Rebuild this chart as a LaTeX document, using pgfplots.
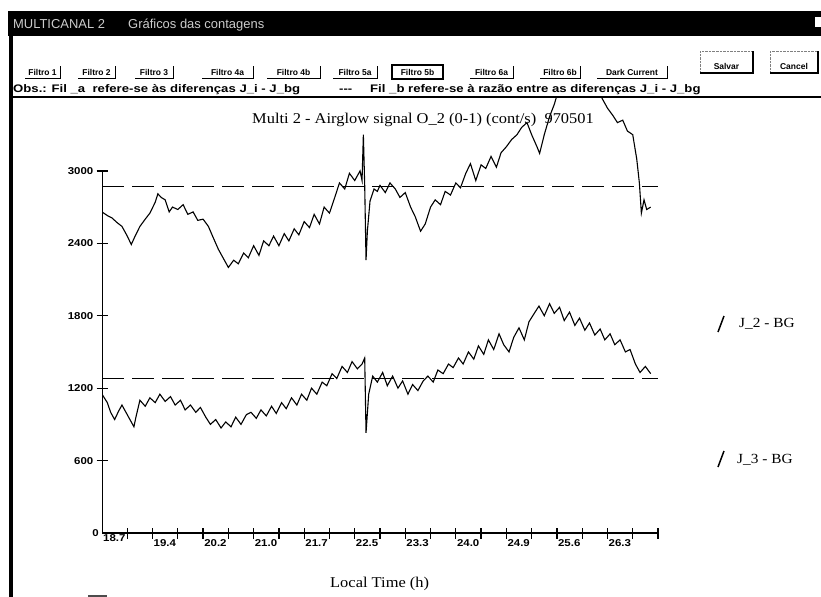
\documentclass[border=0pt]{standalone}
\usepackage{fontspec}
\setmainfont{Liberation Serif}
\newfontfamily\sansf{Liberation Sans}
\newfontfamily\sansw[FakeStretch=1.2]{Liberation Sans}
\newfontfamily\sanst[FakeStretch=1.15]{Liberation Sans}
\newfontfamily\serifw[FakeStretch=1.1]{Liberation Serif}
\usepackage{pgfplots}
\usepackage{pgfplotstable}
\pgfplotsset{compat=1.18}

\pgfplotstableread{
h v
18.70 2660
18.78 2630
18.85 2610
18.93 2570
19.00 2540
19.08 2460
19.14 2390
19.19 2450
19.27 2540
19.35 2600
19.42 2650
19.50 2740
19.54 2810
19.59 2780
19.65 2760
19.71 2660
19.76 2700
19.84 2680
19.92 2720
19.99 2640
20.07 2660
20.14 2590
20.22 2600
20.30 2540
20.37 2450
20.45 2350
20.52 2280
20.60 2200
20.68 2260
20.75 2230
20.83 2320
20.90 2280
20.98 2380
21.06 2300
21.13 2420
21.21 2380
21.28 2460
21.36 2380
21.44 2480
21.51 2420
21.59 2520
21.66 2470
21.74 2580
21.82 2530
21.89 2640
21.97 2560
22.04 2700
22.12 2650
22.20 2780
22.27 2900
22.35 2850
22.42 2980
22.50 2920
22.58 3000
22.61 2920
22.63 3300
22.65 2880
22.67 2260
22.69 2500
22.73 2750
22.79 2850
22.84 2830
22.88 2880
22.96 2820
23.03 2900
23.11 2850
23.18 2780
23.26 2820
23.34 2700
23.41 2620
23.49 2500
23.56 2560
23.64 2700
23.71 2760
23.79 2720
23.86 2830
23.94 2800
24.02 2900
24.09 2860
24.17 2980
24.24 3060
24.32 2920
24.40 3050
24.47 3020
24.55 3120
24.63 3030
24.70 3150
24.78 3200
24.86 3260
24.94 3300
25.01 3360
25.09 3400
25.16 3300
25.24 3200
25.28 3145
25.35 3300
25.43 3450
25.50 3550
25.58 3700
25.73 3800
25.92 3900
26.11 3800
26.22 3600
26.30 3520
26.38 3460
26.45 3400
26.53 3420
26.60 3330
26.68 3300
26.74 3100
26.78 2900
26.81 2650
26.85 2760
26.89 2680
26.95 2700
}\upperdata

\pgfplotstableread{
h v
18.70 1150
18.78 1080
18.83 1000
18.89 940
18.95 1010
19.00 1060
19.08 980
19.14 920
19.18 880
19.21 960
19.27 1100
19.35 1050
19.42 1120
19.50 1080
19.57 1150
19.65 1090
19.73 1130
19.80 1060
19.88 1100
19.95 1020
20.03 1060
20.11 1000
20.18 1040
20.26 960
20.33 900
20.41 940
20.49 870
20.56 920
20.64 880
20.71 960
20.79 900
20.87 980
20.94 1000
21.02 950
21.09 1020
21.17 970
21.25 1050
21.32 990
21.40 1080
21.47 1030
21.55 1120
21.63 1060
21.70 1150
21.78 1100
21.85 1200
21.93 1150
22.01 1250
22.08 1220
22.16 1320
22.23 1280
22.31 1380
22.39 1330
22.46 1420
22.54 1360
22.61 1400
22.65 1450
22.67 830
22.71 1150
22.77 1300
22.84 1250
22.92 1330
22.99 1220
23.07 1300
23.15 1200
23.22 1260
23.30 1150
23.37 1230
23.45 1180
23.53 1260
23.60 1300
23.68 1250
23.75 1350
23.83 1320
23.91 1400
23.98 1370
24.06 1450
24.13 1400
24.21 1500
24.29 1440
24.36 1550
24.44 1480
24.51 1600
24.59 1520
24.67 1650
24.74 1560
24.82 1500
24.89 1620
24.97 1700
25.05 1600
25.12 1750
25.20 1820
25.27 1880
25.35 1800
25.43 1900
25.50 1820
25.58 1870
25.65 1760
25.73 1830
25.81 1720
25.88 1780
25.96 1680
26.03 1740
26.11 1640
26.19 1690
26.26 1600
26.34 1650
26.41 1560
26.49 1600
26.57 1500
26.64 1520
26.72 1400
26.79 1330
26.87 1380
26.95 1320
}\lowerdata

\newcommand\btnfont{\sansf\bfseries\fontsize{8.5}{10}\selectfont}
\newcommand\btn[3]{%
  \draw[line width=1bp] (#1,78) -- (#2,78) -- (#2,66);
  \node[font=\btnfont, inner sep=0pt] at ({(#1+#2)/2},72.5) {#3};}

\begin{document}
\begin{tikzpicture}
\useasboundingbox (0,0) rectangle (821bp,-597bp);
\begin{scope}[x=1bp,y=-1bp]
  % window title bar
  \fill[black] (8,11) rectangle (821,36);
  \node[anchor=base west, text=black!20, font=\sansf\fontsize{13}{15}\selectfont, inner sep=0pt] at (13,28) {MULTICANAL 2};
  \node[anchor=base west, text=black!20, font=\sansf\fontsize{13}{15}\selectfont, inner sep=0pt] at (128,28) {Gráficos das contagens};
  \fill[white] (815,17) rectangle (821,27);
  % left window border
  \draw[line width=3bp] (11,11) -- (11,597);
  % buttons
  \btn{25}{60}{Filtro 1}
  \btn{78}{115}{Filtro 2}
  \btn{135}{173}{Filtro 3}
  \btn{202}{253}{Filtro 4a}
  \btn{267}{320}{Filtro 4b}
  \btn{333}{377}{Filtro 5a}
  \draw[line width=1.6bp] (392,65) rectangle (443,79);
  \node[font=\btnfont, inner sep=0pt] at (417.5,72.5) {Filtro 5b};
  \btn{470}{513}{Filtro 6a}
  \btn{540}{580}{Filtro 6b}
  \btn{597}{667}{Dark Current}
  \draw[black!50, densely dotted] (700,51) rectangle (753,73);
  \draw[line width=1.2bp] (700,73) -- (753,73) -- (753,51);
  \node[font=\btnfont, inner sep=0pt] at (726.5,66) {Salvar};
  \draw[black!50, densely dotted] (770,51) rectangle (818,73);
  \draw[line width=1.2bp] (770,73) -- (818,73) -- (818,51);
  \node[font=\btnfont, inner sep=0pt] at (794,66) {Cancel};
  % observation line
  \node[anchor=base west, font=\sansw\bfseries\fontsize{11}{13}\selectfont, inner sep=0pt] at (13,92) {Obs.: Fil \_a\ \ refere-se às diferenças J\_i - J\_bg};
  \node[anchor=base west, font=\sansw\bfseries\fontsize{11}{13}\selectfont, inner sep=0pt] at (339,92) {---};
  \node[anchor=base west, font=\sansw\bfseries\fontsize{11}{13}\selectfont, inner sep=0pt] at (370,92) {Fil \_b refere-se à razão entre as diferenças J\_i - J\_bg};
  \draw[line width=1.2bp] (12,97) -- (821,97);
\end{scope}

\begin{axis}[
  at={(102bp,-533bp)}, anchor=south west,
  scale only axis, width=556bp, height=436bp,
  xmin=18.7, xmax=27.06, ymin=0, ymax=3612,
  axis x line=bottom, axis y line=left,
  axis line style={-},
  x axis line style={line width=1.5bp},
  y axis line style={draw=none},
  tick align=center,
  major tick length=11bp,
  tick style={black, line width=1.3bp},
  /pgf/number format/assume math mode=true,
  xtick={19.08,19.46,19.84,20.22,20.60,20.98,21.36,21.74,22.12,22.50,22.88,23.26,23.64,24.02,24.40,24.78,25.16,25.54,25.92,26.30,26.68,27.06},
  xticklabels={{},19.4,{},20.2,{},21.0,{},21.7,{},22.5,{},23.3,{},24.0,{},24.9,{},25.6,{},26.3,{},{}},
  extra x ticks={18.7}, extra x tick labels={18.7},
  extra x tick style={major tick length=0pt},
  ytick={600,1200,1800,2400,3000},
  yticklabels={600,1200,1800,2400,3000},
  extra y ticks={0}, extra y tick labels={0},
  extra y tick style={major tick length=0pt},
  xticklabel style={font=\sanst\bfseries\fontsize{10}{12}\selectfont, anchor=north west, inner sep=0pt, xshift=1bp, yshift=-1bp},
  yticklabel style={font=\sanst\bfseries\fontsize{10}{12}\selectfont, anchor=east, inner sep=0pt, xshift=-3bp},
]
\addplot[black, line width=1.7bp, dash pattern=on 22bp off 8bp] coordinates {(18.7,2870) (27.06,2870)};
\addplot[black, line width=1.7bp, dash pattern=on 22bp off 8bp] coordinates {(18.7,1280) (27.06,1280)};
\addplot[black, line width=1.1bp] table[x=h,y=v] {\upperdata};
\addplot[black, line width=1.1bp] table[x=h,y=v] {\lowerdata};
\draw[line width=1.8bp] (axis cs:18.7,0) -- (axis cs:18.7,3000);
\end{axis}

\begin{scope}[x=1bp,y=-1bp]
  \node[anchor=base west, font=\serifw\fontsize{15}{17}\selectfont, inner sep=0pt] at (252,123) {Multi 2 - Airglow signal O\_2 (0-1) (cont/s)\ \ 970501};
  \node[anchor=base west, font=\serifw\fontsize{15}{17}\selectfont, inner sep=0pt] at (330,587) {Local Time (h)};
  \draw[line width=1.5bp] (718,332) -- (724,316);
  \node[anchor=base west, font=\serifw\fontsize{14}{16}\selectfont, inner sep=0pt] at (739,327) {J\_2 - BG};
  \draw[line width=1.5bp] (718,467) -- (724,451);
  \node[anchor=base west, font=\serifw\fontsize{14}{16}\selectfont, inner sep=0pt] at (737,463) {J\_3 - BG};
  \draw[black!70, line width=1.5bp] (88,596) -- (107,596);
\end{scope}
\end{tikzpicture}
\end{document}
